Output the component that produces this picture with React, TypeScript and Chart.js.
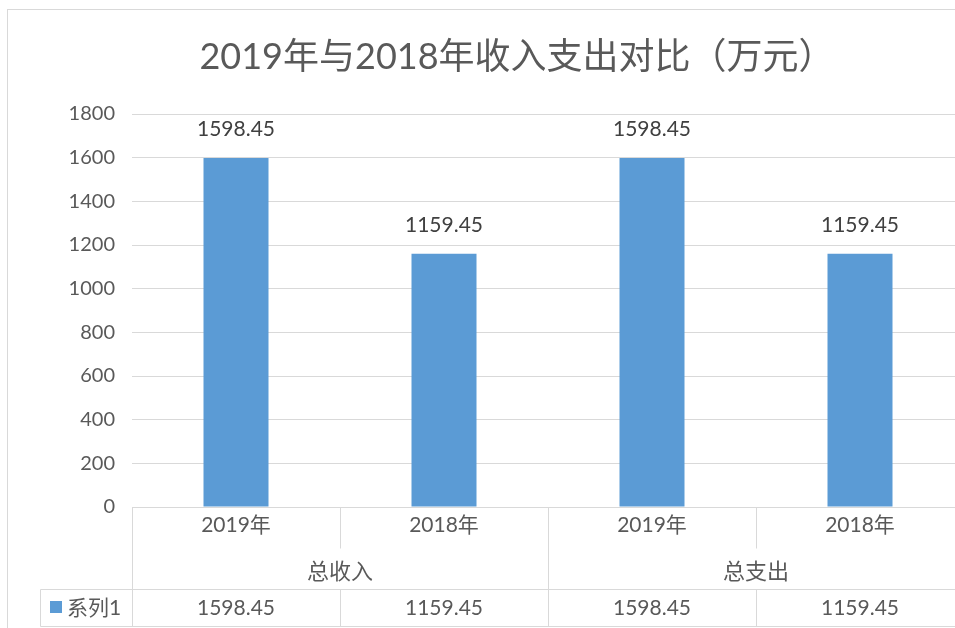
import React, { useEffect, useRef } from "react";
import { Chart, registerables } from "chart.js";

Chart.register(...registerables);

const titleText = "2019年与2018年收入支出对比（万元）";
const categories = ["2019年", "2018年", "2019年", "2018年"];
const groups = ["总收入", "总支出"];
const seriesName = "系列1";
const values = [1598.45, 1159.45, 1598.45, 1159.45];
const yMin = 0;
const yMax = 1800;
const yStep = 200;

const FONT = "Lato, 'Noto Sans CJK SC', sans-serif";
const BAR = "#5B9BD5";
const TXT = "#595959";
const LINE = "#d9d9d9";

const fmt = (v: number) => v.toFixed(2);

const decor = {
  id: "decor",
  afterDraw(chart: any) {
    const ctx = chart.ctx;
    const area = chart.chartArea;
    const xs = chart.scales.x;
    const W = chart.width;
    ctx.save();
    // outer border
    ctx.strokeStyle = LINE;
    ctx.lineWidth = 1;
    ctx.strokeRect(7.5, 9.5, W + 20, 700);
    // title
    ctx.fillStyle = TXT;
    ctx.font = `36px ${FONT}`;
    ctx.textAlign = "center";
    ctx.textBaseline = "middle";
    ctx.fillText(titleText, 517, 57);

    // data labels
    const meta = chart.getDatasetMeta(0);
    ctx.fillStyle = "#404040";
    ctx.font = `21px ${FONT}`;
    meta.data.forEach((el: any, i: number) => {
      ctx.fillText(fmt(values[i]), el.x, el.y - 29);
    });

    // data table
    const L = area.left;
    const top = area.bottom;
    const n = categories.length;
    const cw = (area.right - area.left) / n;
    const r1 = top + 41;
    const r2 = 589;
    const bottom = 626;
    ctx.strokeStyle = LINE;
    ctx.lineWidth = 1;
    const line = (x1: number, y1: number, x2: number, y2: number) => {
      ctx.beginPath();
      ctx.moveTo(Math.round(x1) + 0.5, Math.round(y1) + 0.5);
      ctx.lineTo(Math.round(x2) + 0.5, Math.round(y2) + 0.5);
      ctx.stroke();
    };
    line(L, top, W, top);
    line(40, r2, W, r2);
    line(40, bottom, W, bottom);
    line(40, r2, 40, bottom);
    for (let i = 0; i <= n; i++) {
      const x = L + i * cw;
      if (i % 2 === 0) line(x, top, x, bottom);
      else {
        line(x, top, x, r1);
        line(x, r2, x, bottom);
      }
    }
    ctx.fillStyle = TXT;
    ctx.font = `21px ${FONT}`;
    categories.forEach((c, i) => {
      const x = xs.getPixelForValue(i);
      ctx.fillText(c, x, top + 18);
      ctx.fillText(fmt(values[i]), x, 608);
    });
    ctx.font = `22px ${FONT}`;
    groups.forEach((g, gi) => {
      const x = L + (gi * 2 + 1) * cw;
      ctx.fillText(g, x, 572);
    });
    // legend key
    ctx.fillStyle = BAR;
    ctx.fillRect(50, 601, 12, 12);
    ctx.fillStyle = TXT;
    ctx.textAlign = "left";
    ctx.font = `21px ${FONT}`;
    ctx.fillText(seriesName, 67, 608);
    ctx.restore();
  },
};

export default function App() {
  const ref = useRef<HTMLCanvasElement>(null);
  useEffect(() => {
    if (!ref.current) return;
    const chart = new Chart(ref.current, {
      type: "bar",
      data: {
        labels: categories,
        datasets: [
          {
            label: seriesName,
            data: values,
            backgroundColor: BAR,
            categoryPercentage: 1,
            barPercentage: 0.3125,
          },
        ],
      },
      options: {
        animation: false,
        responsive: false,
        devicePixelRatio: 1,
        layout: { padding: { left: 0, right: 11, top: 114, bottom: 121 } },
        plugins: { legend: { display: false }, tooltip: { enabled: false }, title: { display: false } },
        scales: {
          x: { display: false },
          y: {
            min: yMin,
            max: yMax,
            ticks: {
              stepSize: yStep,
              color: TXT,
              font: { size: 20, family: FONT },
              padding: 17,
              callback: (v: any) => String(v),
            },
            grid: { color: LINE, drawTicks: false, lineWidth: 1 },
            border: { display: false },
            afterFit: (s: any) => {
              s.width = 132;
            },
          },
        },
      },
      plugins: [decor],
    });
    return () => chart.destroy();
  }, []);
  return (
    <div style={{ position: "fixed", left: 0, top: 0, width: 955, height: 628, overflow: "hidden", background: "#fff" }}>
      <canvas ref={ref} width={975} height={628} style={{ display: "block" }} />
    </div>
  );
}
